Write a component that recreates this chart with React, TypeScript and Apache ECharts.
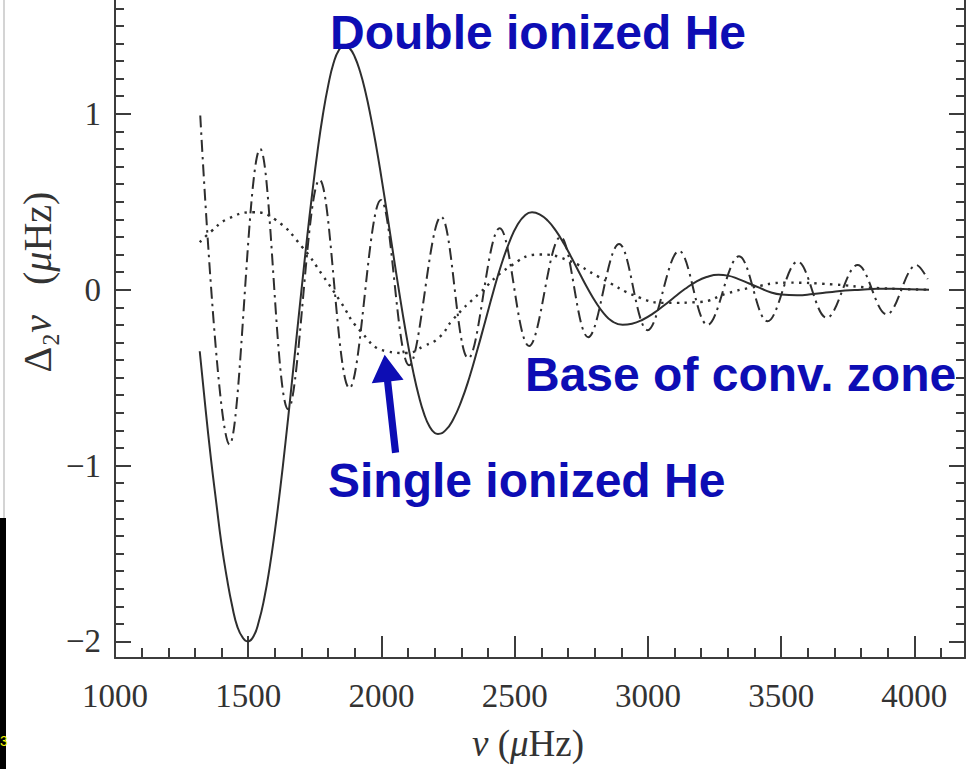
import React, { useEffect, useRef } from "react";
import * as echarts from "echarts";

// Second differences of oscillation frequencies versus frequency (µHz)

// Total signal (solid line): [frequency, Δ2ν]
const totalSignal: [number, number][] = [
  [1318, -0.35], [1340, -0.68], [1360, -0.96], [1380, -1.21], [1400, -1.45],
  [1420, -1.64], [1440, -1.8], [1460, -1.92], [1480, -1.98], [1498, -2.0],
  [1520, -1.97], [1540, -1.885], [1560, -1.756], [1580, -1.583], [1600, -1.373],
  [1620, -1.132], [1640, -0.866], [1660, -0.582], [1680, -0.29], [1700, 0.0],
  [1720, 0.283], [1740, 0.546], [1760, 0.787], [1780, 0.993], [1800, 1.16],
  [1820, 1.287], [1840, 1.361], [1862, 1.39], [1880, 1.374], [1900, 1.323],
  [1920, 1.239], [1940, 1.124], [1960, 0.981], [1980, 0.818], [2000, 0.636],
  [2020, 0.443], [2040, 0.245], [2060, 0.049], [2080, -0.14], [2100, -0.315],
  [2120, -0.473], [2140, -0.603], [2160, -0.706], [2180, -0.777], [2200, -0.815],
  [2212, -0.82], [2240, -0.8], [2270, -0.735], [2300, -0.632], [2330, -0.499],
  [2360, -0.342], [2390, -0.176], [2420, -0.01], [2450, 0.143], [2480, 0.27],
  [2510, 0.368], [2540, 0.425], [2565, 0.44], [2595, 0.427], [2625, 0.391],
  [2655, 0.334], [2685, 0.261], [2715, 0.177], [2745, 0.089], [2775, 0.004],
  [2805, -0.073], [2835, -0.136], [2865, -0.179], [2905, -0.2], [2940, -0.194],
  [2980, -0.171], [3020, -0.135], [3060, -0.09], [3100, -0.042], [3140, 0.005],
  [3180, 0.045], [3220, 0.072], [3265, 0.085], [3300, 0.08], [3340, 0.06],
  [3380, 0.035], [3420, 0.01], [3460, -0.015], [3500, -0.028], [3560, -0.032],
  [3620, -0.025], [3680, -0.015], [3740, -0.005], [3800, 0.0], [3860, 0.005],
  [3920, 0.005], [3980, 0.003], [4055, 0.0],
];

// Base of the convective zone component (dash-dot line): extrema
const convZone: [number, number][] = [
  [1320, 0.99], [1430, -0.88], [1545, 0.8], [1650, -0.68], [1768, 0.625],
  [1880, -0.56], [1998, 0.51], [2104, -0.43], [2224, 0.415], [2326, -0.39],
  [2444, 0.35], [2554, -0.32], [2672, 0.3], [2776, -0.27], [2892, 0.26],
  [2999, -0.23], [3117, 0.22], [3224, -0.2], [3342, 0.19], [3449, -0.18],
  [3562, 0.16], [3671, -0.16], [3787, 0.14], [3896, -0.14], [4008, 0.14],
  [4050, 0.06],
];

// Helium ionization component (dotted line)
const heliumZone: [number, number][] = [
  [1318, 0.27], [1360, 0.33], [1420, 0.4], [1517, 0.44], [1600, 0.4],
  [1704, 0.24], [1780, 0.08], [1843, -0.06], [1918, -0.23], [2019, -0.35],
  [2094, -0.36], [2160, -0.32], [2218, -0.27], [2268, -0.17], [2368, -0.02],
  [2481, 0.13], [2593, 0.2], [2695, 0.17], [2819, 0.07], [2969, -0.045],
  [3070, -0.075], [3194, -0.07], [3300, -0.02], [3382, 0.01], [3521, 0.04],
  [3694, 0.03], [3850, 0.01], [4055, 0.0],
];

const xMajorTicks = [1000, 1500, 2000, 2500, 3000, 3500, 4000];
const xMinorTicks: number[] = [];
for (let v = 1000; v <= 4100; v += 100) xMinorTicks.push(v);
const yMajorTicks = [-2, -1, 0, 1];
const yMinorTicks: number[] = [];
for (let k = -20; k <= 16; k++) yMinorTicks.push(k / 10);

const X_MIN = 1000;
const X_MAX = 4190;
const Y_MIN = -2.094;
const Y_MAX = 1.647;

// Arrow from the "Single ionized He" label to the dotted curve's trough
const arrowTail: [number, number] = [2053, -0.927];
const arrowTip: [number, number] = [2012, -0.37];

const INK = "#2e2e2e";
const AXIS = "#3c3c3c";
const BLUE = "#0d0db4";
const SERIF = "'Liberation Serif', 'DejaVu Serif', serif";
const SANS = "'Liberation Sans', Arial, sans-serif";

const fmtY = (v: number) => (v < 0 ? "\u2212" + Math.abs(v) : String(v));

export default function App() {
  const ref = useRef<HTMLDivElement>(null);

  useEffect(() => {
    const el = ref.current;
    if (!el) return;
    const chart = echarts.init(el, null, { renderer: "svg" });

    const tickLine = (len: number, width: number) => ({
      inside: true,
      length: len,
      lineStyle: { color: AXIS, width },
    });

    const xAxisBase = {
      type: "value",
      min: X_MIN,
      max: X_MAX,
      position: "bottom",
      splitLine: { show: false },
    };
    const yAxisBase = {
      type: "value",
      min: Y_MIN,
      max: Y_MAX,
      splitLine: { show: false },
    };

    chart.setOption({
      animation: false,
      backgroundColor: "#ffffff",
      grid: { left: 115, right: 1, top: 0, bottom: 111, containLabel: false },
      xAxis: [
        {
          ...xAxisBase,
          axisLine: { show: true, onZero: false, lineStyle: { color: AXIS, width: 2 } },
          axisTick: { ...tickLine(22, 2), customValues: xMajorTicks },
          axisLabel: {
            customValues: xMajorTicks,
            formatter: (v: number) => String(v),
            fontFamily: SERIF,
            fontSize: 33,
            color: "#333",
            margin: 21,
          },
        },
        {
          ...xAxisBase,
          axisLine: { show: false, onZero: false },
          axisTick: { ...tickLine(10, 2), customValues: xMinorTicks },
          axisLabel: { show: false },
        },
      ],
      yAxis: [
        {
          ...yAxisBase,
          position: "left",
          axisLine: { show: true, onZero: false, lineStyle: { color: AXIS, width: 2 } },
          axisTick: { ...tickLine(16, 2), customValues: yMajorTicks },
          axisLabel: {
            customValues: yMajorTicks,
            formatter: fmtY,
            fontFamily: SERIF,
            fontSize: 33,
            color: "#333",
            margin: 14,
          },
        },
        {
          ...yAxisBase,
          position: "left",
          axisLine: { show: false, onZero: false },
          axisTick: { ...tickLine(9, 2), customValues: yMinorTicks },
          axisLabel: { show: false },
        },
        {
          ...yAxisBase,
          position: "right",
          axisLine: { show: true, onZero: false, lineStyle: { color: AXIS, width: 2 } },
          axisTick: { ...tickLine(16, 2), customValues: yMajorTicks },
          axisLabel: { show: false },
        },
        {
          ...yAxisBase,
          position: "right",
          axisLine: { show: false, onZero: false },
          axisTick: { ...tickLine(9, 2), customValues: yMinorTicks },
          axisLabel: { show: false },
        },
      ],
      series: [
        {
          name: "total",
          type: "line",
          data: totalSignal,
          xAxisIndex: 0,
          yAxisIndex: 0,
          showSymbol: false,
          symbol: "none",
          smooth: 0.5,
          lineStyle: { color: INK, width: 2 },
          z: 3,
        },
        {
          name: "convective zone",
          type: "line",
          data: convZone,
          xAxisIndex: 0,
          yAxisIndex: 0,
          showSymbol: false,
          symbol: "none",
          smooth: 0.37,
          lineStyle: { color: INK, width: 2, type: [12, 5, 2.5, 5] },
          z: 2,
        },
        {
          name: "helium",
          type: "line",
          data: heliumZone,
          xAxisIndex: 0,
          yAxisIndex: 0,
          showSymbol: false,
          symbol: "none",
          smooth: 0.5,
          lineStyle: { color: INK, width: 2.4, type: [2.4, 5.4] },
          z: 2,
        },
      ],
    });

    // Arrow geometry in pixels, anchored to data coordinates
    const p0 = chart.convertToPixel({ xAxisIndex: 0, yAxisIndex: 0 }, arrowTail) as number[];
    const p1 = chart.convertToPixel({ xAxisIndex: 0, yAxisIndex: 0 }, arrowTip) as number[];
    const dx = p1[0] - p0[0];
    const dy = p1[1] - p0[1];
    const len = Math.hypot(dx, dy) || 1;
    const ux = dx / len;
    const uy = dy / len;
    const nx = -uy;
    const ny = ux;
    const headLen = 27;
    const headHalf = 16;
    const shaftHalf = 3.6;
    const bx = p1[0] - ux * headLen;
    const by = p1[1] - uy * headLen;
    const arrowPts = [
      [p0[0] + nx * shaftHalf, p0[1] + ny * shaftHalf],
      [bx + nx * shaftHalf, by + ny * shaftHalf],
      [bx + nx * headHalf, by + ny * headHalf],
      [p1[0], p1[1]],
      [bx - nx * headHalf, by - ny * headHalf],
      [bx - nx * shaftHalf, by - ny * shaftHalf],
      [p0[0] - nx * shaftHalf, p0[1] - ny * shaftHalf],
    ];

    const label = (text: string, x: number, y: number) => ({
      type: "text",
      x,
      y,
      z: 10,
      style: {
        text,
        fill: BLUE,
        fontFamily: SANS,
        fontWeight: "bold",
        fontSize: 48,
        textAlign: "left",
        textVerticalAlign: "middle",
      },
    });

    chart.setOption({
      graphic: [
        // slide edge strip on the far left
        { type: "rect", shape: { x: 3, y: 0, width: 2, height: 518 }, style: { fill: "#d4d4d4" }, z: 1 },
        { type: "rect", shape: { x: 0, y: 518, width: 6, height: 251 }, style: { fill: "#000000" }, z: 1 },
        {
          type: "text",
          x: 0,
          y: 741,
          z: 2,
          style: { text: "3", fill: "#f2f200", fontFamily: SANS, fontSize: 14, textAlign: "left", textVerticalAlign: "middle" },
        },
        // axis titles
        {
          type: "text",
          x: 528,
          y: 743,
          style: {
            text: "{i|\u03bd} ({i|\u03bc}Hz)",
            fill: "#333",
            fontFamily: SERIF,
            fontSize: 37,
            textAlign: "center",
            textVerticalAlign: "middle",
            rich: {
              i: { fontStyle: "italic", fontFamily: SERIF, fontSize: 37, fill: "#333" },
            },
          },
        },
        {
          type: "text",
          x: 37,
          y: 282,
          rotation: Math.PI / 2,
          style: {
            text: "\u0394\u2082{i|\u03bd}   ({i|\u03bc}Hz)",
            fill: "#333",
            fontFamily: SERIF,
            fontSize: 40,
            textAlign: "center",
            textVerticalAlign: "middle",
            rich: {
              i: { fontStyle: "italic", fontFamily: SERIF, fontSize: 40, fill: "#333" },
            },
          },
        },
        // annotations
        label("Double ionized He", 330, 32),
        label("Base of conv. zone", 525, 374),
        label("Single ionized He", 328, 480),
        { type: "polygon", z: 10, shape: { points: arrowPts }, style: { fill: BLUE } },
      ],
    });

    return () => chart.dispose();
  }, []);

  return (
    <div
      ref={ref}
      style={{ position: "fixed", left: 0, top: 0, width: 966, height: 769, background: "#ffffff" }}
    />
  );
}
